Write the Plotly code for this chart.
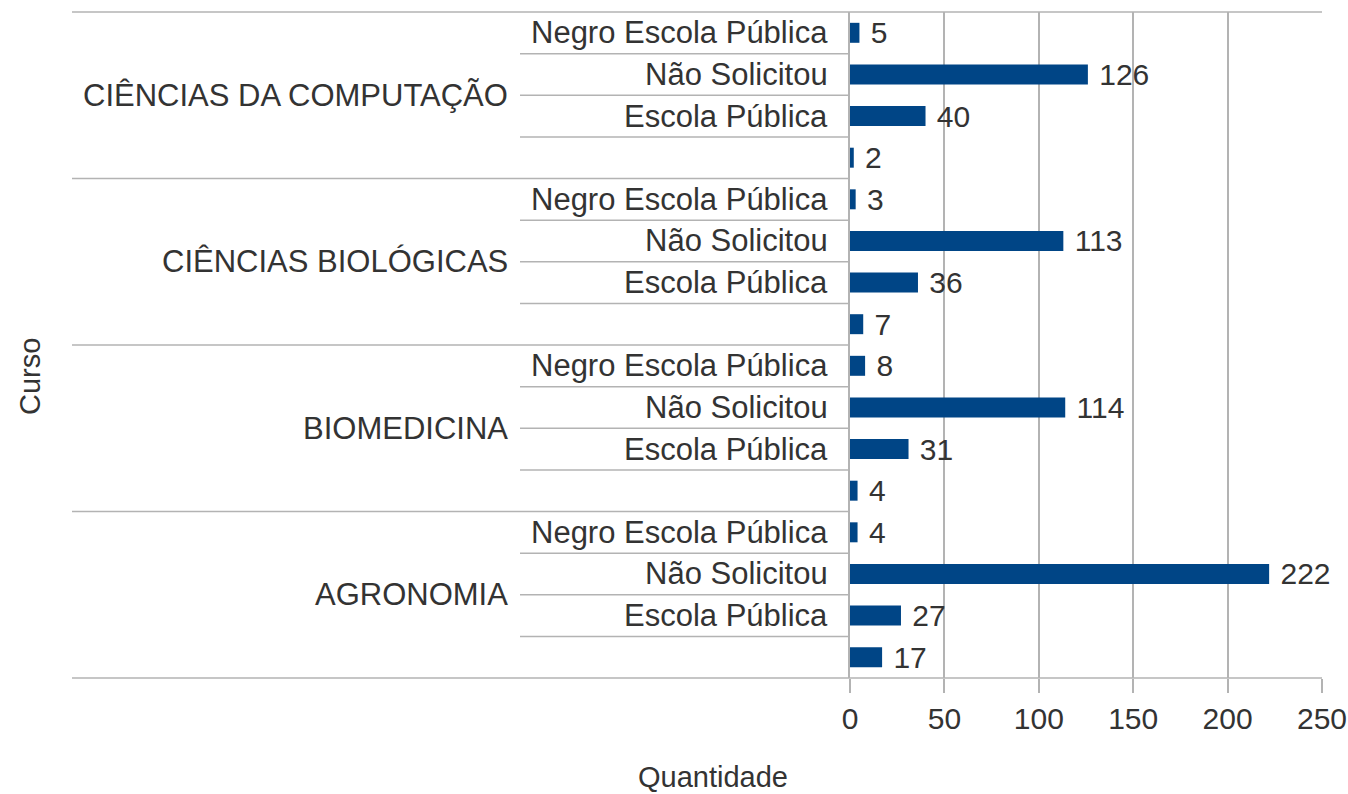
import plotly.graph_objects as go

# ---- data ----
courses = ["AGRONOMIA", "BIOMEDICINA", "CIÊNCIAS BIOLÓGICAS", "CIÊNCIAS DA COMPUTAÇÃO"]  # bottom -> top
subcats = ["", "Escola Pública", "Não Solicitou", "Negro Escola Pública"]  # bottom -> top within course
values = {
    "AGRONOMIA": [17, 27, 222, 4],
    "BIOMEDICINA": [4, 31, 114, 8],
    "CIÊNCIAS BIOLÓGICAS": [7, 36, 113, 3],
    "CIÊNCIAS DA COMPUTAÇÃO": [2, 40, 126, 5],
}
x_ticks = [0, 50, 100, 150, 200, 250]
x_title = "Quantidade"
y_title = "Curso"

# ---- build rows ----
rows_y, rows_x, rows_lab = [], [], []
i = 0
for c in courses:
    for s, v in zip(subcats, values[c]):
        rows_y.append(i)
        rows_x.append(v)
        rows_lab.append(s)
        i += 1
n = len(rows_y)
per = len(subcats)

FONT = "Liberation Sans, Arial, sans-serif"
TXT = "#333333"
GRID = "#b3b3b3"
BAR = "#004586"

fig = go.Figure(go.Bar(
    x=rows_x, y=rows_y, orientation="h",
    marker=dict(color=BAR, line=dict(width=0)),
    width=0.48,
    text=["\u00a0" + str(v) for v in rows_x], textposition="outside",
    textfont=dict(family=FONT, size=30, color=TXT),
    constraintext="none", cliponaxis=False,
    hoverinfo="x+y",
))

# plot geometry (paper units)
left_outer = (72 - 850) / 472
left_inner = (520 - 850) / 472

shapes = []
for k in range(1, n):
    yp = k / n
    x0 = left_outer if k % per == 0 else left_inner
    shapes.append(dict(type="line", xref="paper", yref="paper", x0=x0, x1=0, y0=yp, y1=yp,
                       line=dict(color=GRID, width=1.5), layer="below"))
for yp in (0, 1):
    shapes.append(dict(type="line", xref="paper", yref="paper", x0=left_outer, x1=1, y0=yp, y1=yp,
                       line=dict(color=GRID, width=1.5), layer="below"))

annotations = []
for yv, lab in zip(rows_y, rows_lab):
    if lab:
        annotations.append(dict(xref="paper", yref="y", x=0, y=yv, text=lab, showarrow=False,
                                xanchor="right", yanchor="middle", xshift=-20,
                                font=dict(family=FONT, size=31, color=TXT)))
for gi, c in enumerate(courses):
    yc = gi * per + (per - 1) / 2
    annotations.append(dict(xref="paper", yref="y", x=0, y=yc, text=c, showarrow=False,
                            xanchor="right", yanchor="middle", xshift=-340,
                            font=dict(family=FONT, size=31, color=TXT)))
annotations.append(dict(xref="paper", yref="paper", x=(713 - 850) / 472, y=0, yshift=-99,
                        text=x_title, showarrow=False, xanchor="center", yanchor="middle",
                        font=dict(family=FONT, size=29, color=TXT)))
annotations.append(dict(xref="paper", yref="paper", x=(30 - 850) / 472, y=0.5, yshift=-32,
                        text=y_title, showarrow=False, textangle=-90, xanchor="center", yanchor="middle",
                        font=dict(family=FONT, size=29, color=TXT)))

fig.update_layout(
    width=1348, height=794,
    margin=dict(l=850, r=26, t=12, b=116, autoexpand=False),
    paper_bgcolor="white", plot_bgcolor="white",
    showlegend=False,
    shapes=shapes, annotations=annotations,
    xaxis=dict(range=[0, 250], tickvals=x_ticks, showgrid=True, gridcolor=GRID, gridwidth=1.5,
               zeroline=False, showline=False, ticks="outside", ticklen=14, tickcolor=GRID, tickwidth=1.5,
               automargin=False,
               tickfont=dict(family=FONT, size=30, color=TXT)),
    yaxis=dict(range=[-0.5, n - 0.5], showticklabels=False, showgrid=False, zeroline=False,
               automargin=False,
               showline=True, linecolor=GRID, linewidth=1.5, ticks=""),
)

fig.write_html("out.html", config={"displayModeBar": False},
               post_script="document.body.style.margin='0';document.body.style.overflow='hidden';")
